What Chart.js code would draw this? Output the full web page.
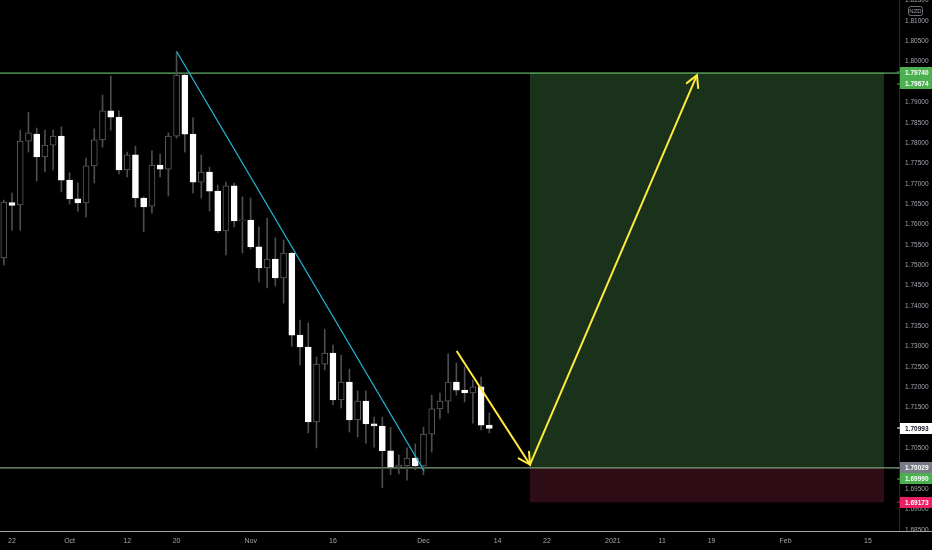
<!DOCTYPE html>
<html><head><meta charset="utf-8">
<script src="https://cdn.jsdelivr.net/npm/chart.js@4.4.1/dist/chart.umd.min.js"></script>
<style>html,body{margin:0;padding:0;background:#000;}canvas{display:block}</style>
</head><body>
<canvas id="c" width="932" height="550"></canvas>
<script>
// ---- data (trading-day index, 0 = Sep 22 2020) ----
const barIndex = [-1,0,1,2,3,4,5,6,7,8,9,10,11,12,13,14,15,16,17,18,19,20,21,22,23,24,25,26,27,28,29,30,31,32,33,34,35,36,37,38,39,40,41,42,43,44,45,46,47,48,49,50,51,52,53,54,55,56,57,58];
const opens  = [1.7518,1.7654,1.7648,1.7805,1.7822,1.7766,1.7795,1.7817,1.7709,1.7663,1.7653,1.7744,1.7808,1.7879,1.7864,1.7734,1.7771,1.7665,1.7645,1.7746,1.7736,1.7817,1.7967,1.7822,1.7704,1.7729,1.7682,1.7584,1.7695,1.7609,1.7611,1.7545,1.7493,1.7515,1.7469,1.7530,1.7328,1.7299,1.7115,1.7257,1.7284,1.7169,1.7213,1.7120,1.7166,1.7110,1.7105,1.7044,1.7004,1.7007,1.7026,1.7007,1.7085,1.7147,1.7166,1.7213,1.7193,1.7186,1.7201,1.7107];
const highs  = [1.7660,1.7677,1.7832,1.7876,1.7837,1.7832,1.7832,1.7840,1.7727,1.7702,1.7763,1.7835,1.7918,1.7965,1.7879,1.7778,1.7793,1.7668,1.7781,1.7773,1.7825,1.8024,1.7972,1.7862,1.7771,1.7741,1.7697,1.7704,1.7702,1.7668,1.7665,1.7594,1.7616,1.7567,1.7562,1.7532,1.7365,1.7358,1.7274,1.7343,1.7304,1.7279,1.7245,1.7191,1.7191,1.7127,1.7127,1.7102,1.7034,1.7051,1.7061,1.7102,1.7181,1.7186,1.7282,1.7260,1.7250,1.7218,1.7225,1.7137];
const lows   = [1.7500,1.7586,1.7586,1.7778,1.7707,1.7729,1.7734,1.7680,1.7650,1.7633,1.7618,1.7702,1.7790,1.7832,1.7724,1.7717,1.7643,1.7582,1.7628,1.7717,1.7670,1.7812,1.7778,1.7677,1.7665,1.7633,1.7580,1.7525,1.7594,1.7530,1.7540,1.7459,1.7444,1.7449,1.7407,1.7301,1.7255,1.7088,1.7051,1.7243,1.7157,1.7149,1.7090,1.7078,1.7063,1.7053,1.6953,1.6985,1.6987,1.6972,1.6997,1.6985,1.7041,1.7122,1.7137,1.7181,1.7164,1.7112,1.7095,1.7088];
const closes = [1.7655,1.7647,1.7805,1.7825,1.7766,1.7795,1.7817,1.7709,1.7663,1.7653,1.7744,1.7808,1.7879,1.7864,1.7734,1.7771,1.7665,1.7643,1.7746,1.7736,1.7817,1.7967,1.7822,1.7704,1.7729,1.7682,1.7584,1.7695,1.7609,1.7611,1.7545,1.7493,1.7515,1.7469,1.7530,1.7328,1.7299,1.7115,1.7257,1.7284,1.7169,1.7213,1.7120,1.7166,1.7110,1.7105,1.7044,1.7004,1.7009,1.7026,1.7007,1.7085,1.7147,1.7166,1.7213,1.7193,1.7186,1.7201,1.7107,1.7099];

const xTickIndex  = [0,7,14,20,29,39,50,59,65,73,79,85,94,104];
const xTickLabels = ['22','Oct','12','20','Nov','16','Dec','14','22','2021','11','19','Feb','15'];
const yTickValues = [1.685,1.690,1.695,1.700,1.705,1.710,1.715,1.720,1.725,1.730,1.735,1.740,1.745,1.750,1.755,1.760,1.765,1.770,1.775,1.780,1.785,1.790,1.795,1.800,1.805,1.810,1.815];

const xMin = -1.458, xMax = 107.78, yMin = 1.68469, yMax = 1.81516;
const hLines = [1.7972, 1.7002];
const trendX = [20.0, 50.06], trendY = [1.8025, 1.6995];
const arrowX = [54.03, 62.94, 83.23], arrowY = [1.7289, 1.7010, 1.7967];
const zoneX = [62.94, 105.95];
const targetPrice = 1.7974, entryPrice = 1.70029, stopPrice = 1.69173;
const priceLabels  = [1.79740, 1.79674, 1.70993, 1.70029, 1.69990, 1.69173];
const priceLabelBg = ['#4caf50','#4caf50','#ffffff','#787b86','#4caf50','#e91e63'];
const priceLabelFg = ['#ffffff','#ffffff','#131722','#ffffff','#ffffff','#ffffff'];

const FONT = "'Liberation Sans', Arial, sans-serif";
const isUp = i => closes[i] >= opens[i];

const overlay = {
  id: 'overlay',
  beforeDraw(chart) {
    const c = chart.ctx;
    c.save(); c.fillStyle = '#000'; c.fillRect(0,0,chart.width,chart.height); c.restore();
  },
  afterDatasetsDraw(chart) {
    const meta = chart.getDatasetMeta(chart.data.datasets.findIndex(d => d.label === 'arrow'));
    const p = meta.data;
    const c = chart.ctx;
    c.save();
    c.strokeStyle = '#ffeb3b'; c.lineWidth = 2; c.lineCap = 'round';
    const head = (a, b) => {
      const ang = Math.atan2(b.y - a.y, b.x - a.x), L = 13, w = 0.5;
      c.beginPath();
      c.moveTo(b.x - L*Math.cos(ang - w), b.y - L*Math.sin(ang - w));
      c.lineTo(b.x, b.y);
      c.lineTo(b.x - L*Math.cos(ang + w), b.y - L*Math.sin(ang + w));
      c.stroke();
    };
    head(p[0], p[1]); head(p[1], p[2]);
    c.restore();
  },
  afterDraw(chart) {
    const c = chart.ctx, ys = chart.scales.y, ca = chart.chartArea;
    c.save();
    c.strokeStyle = '#a8a8a8'; c.lineWidth = 1;
    c.beginPath(); c.moveTo(0, ca.bottom + 0.5); c.lineTo(chart.width, ca.bottom + 0.5); c.stroke();
    c.strokeStyle = '#6a6d75'; c.lineWidth = 1;
    c.beginPath(); c.roundRect(908.5, 6.5, 14, 9, 2); c.stroke();
    c.fillStyle = '#a3a6af'; c.font = '6px ' + FONT; c.textAlign = 'center'; c.textBaseline = 'middle';
    c.fillText('NZD', 915.5, 11.2);
    let prev = -1e9;
    c.font = 'bold 6.5px ' + FONT; c.textAlign = 'left';
    priceLabels.forEach((v, i) => {
      let y = ys.getPixelForValue(v);
      if (y < prev + 11.3) y = prev + 11.3;
      prev = y;
      c.fillStyle = priceLabelBg[i];
      c.fillRect(900, Math.round(y - 5.5), 32, 11);
      c.fillRect(897, Math.round(y) - 0.5, 3, 1);
      c.fillStyle = priceLabelFg[i];
      c.fillText(v.toFixed(5), 905, y + 0.5);
    });
    c.restore();
  }
};

const zeroPad = s => { s.paddingTop = 0; s.paddingBottom = 0; s.paddingLeft = 0; s.paddingRight = 0; };

const bodyData = barIndex.map((x, i) => ({x, y: [opens[i], closes[i]]}));
const wickData = barIndex.map((x, i) => ({x, y: [lows[i], highs[i]]}));

new Chart(document.getElementById('c'), {
  type: 'bar',
  data: {
    datasets: [
      { label: 'arrow', type: 'line', order: 0, data: arrowX.map((x, i) => ({x, y: arrowY[i]})),
        borderColor: '#ffeb3b', borderWidth: 2, pointRadius: 0, tension: 0, fill: false },
      { label: 'trend', type: 'line', order: 1, data: trendX.map((x, i) => ({x, y: trendY[i]})),
        borderColor: '#22b5d0', borderWidth: 1.3, pointRadius: 0, tension: 0, fill: false },
      { label: 'bodies', type: 'bar', order: 2, grouped: false, data: bodyData,
        barThickness: 6, minBarLength: 1, borderSkipped: false, borderWidth: 1,
        backgroundColor: ctx => isUp(ctx.dataIndex) ? '#000000' : '#ffffff',
        borderColor: ctx => isUp(ctx.dataIndex) ? '#5e5e5e' : '#ffffff' },
      { label: 'wicks', type: 'bar', order: 3, grouped: false, data: wickData,
        barThickness: 1, borderWidth: 0, backgroundColor: '#4d4d4d' },
      { label: 'hline1', type: 'line', order: 4, data: [{x: xMin, y: hLines[0]}, {x: xMax, y: hLines[0]}],
        borderColor: '#5fae62', borderWidth: 1.3, pointRadius: 0, fill: false },
      { label: 'hline2', type: 'line', order: 4, data: [{x: xMin, y: hLines[1]}, {x: xMax, y: hLines[1]}],
        borderColor: '#7fa07f', borderWidth: 1.3, pointRadius: 0, fill: false },
      { label: 'target', type: 'line', order: 6, data: [{x: zoneX[0], y: targetPrice}, {x: zoneX[1], y: targetPrice}],
        borderWidth: 0, pointRadius: 0, fill: {value: entryPrice}, backgroundColor: '#1a3219' },
      { label: 'stop', type: 'line', order: 6, data: [{x: zoneX[0], y: entryPrice}, {x: zoneX[1], y: entryPrice}],
        borderWidth: 0, pointRadius: 0, fill: {value: stopPrice}, backgroundColor: '#2e0d17' }
    ]
  },
  options: {
    responsive: false, animation: false, devicePixelRatio: 1,
    layout: { padding: 0 },
    plugins: { legend: { display: false }, tooltip: { enabled: false } },
    scales: {
      x: {
        type: 'linear', min: xMin, max: xMax, offset: false,
        grid: { display: false, offset: false, drawTicks: false },
        border: { display: false },
        afterBuildTicks: s => { s.ticks = xTickIndex.map(v => ({value: v})); },
        afterFit: s => { s.height = 19; zeroPad(s); },
        ticks: { autoSkip: false, maxRotation: 0, padding: 6, color: '#a3a6af',
          font: { size: 7, family: FONT },
          callback: (v, i) => xTickLabels[i] }
      },
      y: {
        type: 'linear', position: 'right', min: yMin, max: yMax,
        grid: { display: false, drawTicks: false },
        border: { display: true, color: '#2b2b2b' },
        afterBuildTicks: s => { s.ticks = yTickValues.map(v => ({value: v})); },
        afterFit: s => { s.width = 33; zeroPad(s); },
        ticks: { padding: 6, color: '#a3a6af', font: { size: 6.5, family: FONT },
          callback: v => Number(v).toFixed(5) }
      }
    }
  },
  plugins: [overlay]
});
</script>
</body></html>
